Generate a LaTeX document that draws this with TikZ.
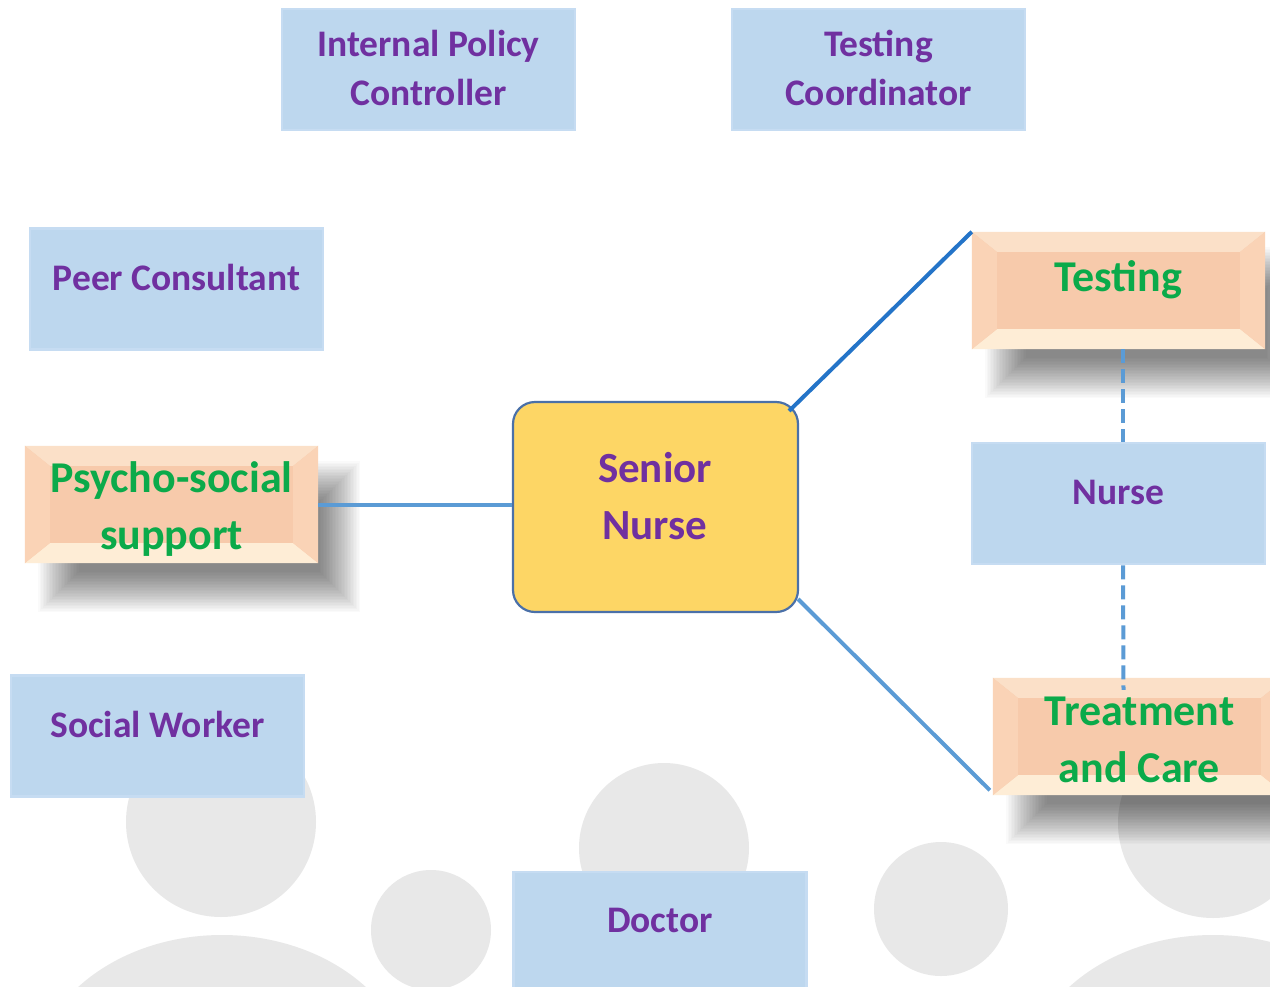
\documentclass[tikz,border=0pt]{standalone}
\usepackage{fontspec}
\setmainfont{Carlito}
\usetikzlibrary{calc}
\definecolor{boxblue}{HTML}{BDD7EE}
\definecolor{blueedge}{HTML}{C6DCF2}
\definecolor{peach}{HTML}{F7CAAB}
\definecolor{bevtop}{HTML}{FBE0C8}
\definecolor{bevbot}{HTML}{FEEDD6}
\definecolor{bevside}{HTML}{FAD3B6}
\definecolor{txtpurple}{HTML}{7030A0}
\definecolor{txtgreen}{HTML}{0BAA4A}
\definecolor{snfill}{HTML}{FDD665}
\definecolor{snedge}{HTML}{4A70A8}
\definecolor{linkdark}{HTML}{2474C8}
\definecolor{linklight}{HTML}{5B9BD5}
\definecolor{bggray}{HTML}{E8E8E8}
\tikzset{
 bluebox/.style={draw=blueedge, line width=2.5pt, fill=boxblue, minimum width=293pt, minimum height=121pt, inner sep=0pt},
 peachbox/.style={fill=peach, minimum width=293pt, minimum height=117pt, inner sep=0pt},
 shlayer/.style={fill=black, opacity=0.019},
 ptext/.style={text=txtpurple, font=\bfseries\fontsize{37.5}{49}\selectfont, align=center, inner sep=0pt},
 gtext/.style={text=txtgreen, font=\bfseries\fontsize{44}{57}\selectfont, align=center, inner sep=0pt},
 link/.style={line width=4pt},
 dlink/.style={line width=4pt, dash pattern=on 14pt off 6pt, draw=linklight},
 head/.style={fill=bggray, draw=none}
}
\newcommand\mysoftshadow[4]{%
 \foreach \i in {0,...,27}{%
   \fill[shlayer] (#1+\i*1.5,#2+\i*1.5) rectangle (#3-\i*1.5,#4-\i*1.5);
 }%
}
\newcommand\mybevel[1]{%
 \fill[bevtop] (#1.north west) -- (#1.north east) -- ($(#1.north east)+(-25,20)$) -- ($(#1.north west)+(25,20)$) -- cycle;
 \fill[bevbot] (#1.south west) -- (#1.south east) -- ($(#1.south east)+(-25,-20)$) -- ($(#1.south west)+(25,-20)$) -- cycle;
 \fill[bevside] (#1.north west) -- ($(#1.north west)+(25,20)$) -- ($(#1.south west)+(25,-20)$) -- (#1.south west) -- cycle;
 \fill[bevside] (#1.north east) -- ($(#1.north east)+(-25,20)$) -- ($(#1.south east)+(-25,-20)$) -- (#1.south east) -- cycle;
}
\begin{document}
\begin{tikzpicture}[x=1pt,y=-1pt]
\useasboundingbox (0,0) rectangle (1270,986);
\clip (0,0) rectangle (1270,986);
\fill[white] (0,0) rectangle (1270,986);
% background figures
\fill[head] (221,822) circle[radius=95pt];
\fill[head] (222,1085) ellipse[x radius=190pt, y radius=150pt];
\fill[head] (431,930) circle[radius=60pt];
\fill[head] (664,848) circle[radius=85pt];
\fill[head] (941,909) circle[radius=67pt];
\fill[head] (1213,823) circle[radius=95pt];
\fill[head] (1213,1085) ellipse[x radius=190pt, y radius=150pt];
% blue boxes
\node[bluebox] (ipc) at (428.5,69.5) {};
\node[ptext] (ipct) at (428.5,68) {Internal Policy\\Controller};
\node[bluebox] (tco) at (878.5,69.5) {};
\node[ptext] (tcot) at (878.5,68) {Testing\\Coordinator};
\node[bluebox] (peer) at (176.5,289) {};
\node[ptext] (peert) at (176.5,277) {Peer Consultant};
\node[bluebox] (nurse) at (1118.5,503.5) {};
\node[ptext] (nurset) at (1118.5,492) {Nurse};
\node[bluebox] (sw) at (157.5,736) {};
\node[ptext] (swt) at (157.5,724) {Social Worker};
\node[bluebox] (doc) at (660,932.5) {};
\node[ptext] (doct) at (660,920) {Doctor};
% shadows of the peach boxes
\mysoftshadow{38}{461}{360}{612}
\mysoftshadow{985}{247}{1307}{398}
\mysoftshadow{1006}{693}{1328}{844}
% peach boxes
\node[peachbox] (psy) at (171.5,504.5) {};
\mybevel{psy}
\node[gtext] (psyt) at (171.5,509.5) {Psycho-social\\support};
\node[peachbox] (tst) at (1118.5,290.5) {};
\mybevel{tst}
\node[gtext] (tstt) at (1118.5,280) {Testing};
\node[peachbox] (trc) at (1139.5,736.5) {};
\mybevel{trc}
\node[gtext] (trct) at (1139.5,740) {Treatment\\and Care};
% senior nurse
\node[draw=snedge, line width=2.2pt, fill=snfill, rounded corners=22pt, minimum width=285pt, minimum height=210pt, inner sep=0pt] (sn) at (655.5,507) {};
\node[ptext, font=\bfseries\fontsize{43}{57}\selectfont] (snt) at (655,496.5) {Senior\\Nurse};
% connectors
\draw[link, linklight] (psy.east) -- (psy.east -| sn.west);
\draw[link, linkdark] ($(sn.north east)+(-10,10)$) -- (tst.north west);
\draw[link, linklight] ($(sn.south east)+(-1,-14)$) -- ($(trc.south west)+(-3,-5)$);
\draw[dlink] (tst.south -| nurse.north) ++(4.5,0) -- ($(nurse.north)+(4.5,0)$);
\draw[dlink] ($(nurse.south)+(4.5,0)$) -- ($(trc.north)+(-16,12)$);
\end{tikzpicture}
\end{document}
